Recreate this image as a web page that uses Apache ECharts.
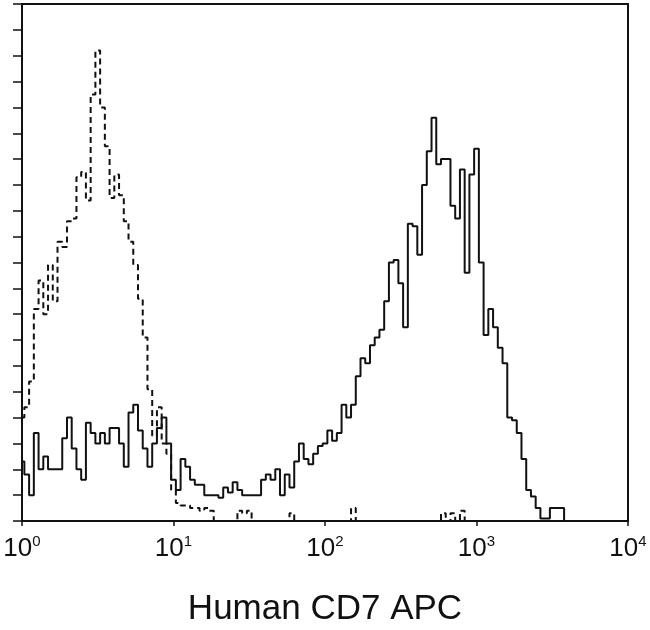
<!DOCTYPE html>
<html><head><meta charset="utf-8">
<script src="https://cdn.jsdelivr.net/npm/echarts@6/dist/echarts.min.js"></script>
<style>html,body{margin:0;padding:0;background:#fff}#c{width:650px;height:630px}</style>
</head><body><div id="c"></div>
<script>
// Flow cytometry histogram: channel counts, 32 channels per decade (channel 0 = 10^0)
const channelsPerDecade = 32;
const xTickExponents = [0, 1, 2, 3, 4];
const axisTitle = 'Human CD7 APC';

// Solid line: Human CD7 APC stained
const cd7Counts = [
  2.3,1.8,1.0,3.4,2.0,2.5,2.0,2.0,2.0,3.2,
  4.0,2.8,2.0,1.6,3.8,3.4,3.0,3.4,3.0,3.6,
  3.6,3.0,2.1,4.2,4.5,3.5,2.8,2.1,3.0,3.6,
  4.0,3.0,1.6,1.2,2.4,2.1,1.6,1.4,1.4,1.0,
  1.0,1.0,0.9,1.3,1.1,1.5,1.2,1.0,1.0,1.0,
  1.0,1.6,1.8,1.6,2.0,1.0,1.8,1.3,2.3,3.0,
  2.4,2.2,2.6,2.9,3.0,3.5,3.1,3.4,4.5,4.0,
  4.5,5.6,6.3,6.1,6.8,7.1,7.4,8.5,10.0,10.1,
  9.2,7.5,11.5,11.4,10.3,13.0,14.3,15.6,13.8,14.0,
  14.0,12.2,11.7,13.6,9.6,13.4,14.4,10.0,7.2,8.2,
  7.5,6.7,6.1,4.0,3.9,3.4,2.4,1.2,0.95,0.5,
  0.1,0.1,0.5,0.5,0.5,0
];

// Dashed line: isotype control
const isotypeCounts = [
  4.0,4.4,5.4,8.2,9.3,8.0,9.9,8.5,10.8,10.6,
  11.6,11.7,13.3,13.5,12.4,16.5,18.2,16.0,14.5,12.5,
  13.4,12.6,11.6,10.8,9.9,8.6,7.1,5.1,3.3,4.4,
  3.0,2.6,1.2,0.7,0.6,0.6,0.5,0.5,0.4,0.5,
  0.4,0,0,0,0,0,0.4,0.3,0.4,0,
  0,0,0,0,0,0,0,0.3,0,0,
  0,0,0,0,0,0,0,0,0,0,
  0.5,0,0,0,0,0,0,0,0,0,
  0,0,0,0,0,0,0,0,0,0.3,
  0,0.3,0,0.4,0
];

function toPoints(counts) {
  return counts.map((v, ch) => [Math.pow(10, ch / channelsPerDecade), v]);
}

const chart = echarts.init(document.getElementById('c'), null, {renderer: 'canvas'});
chart.setOption({
  animation: false,
  backgroundColor: '#fff',
  title: {
    text: axisTitle,
    left: 'center',
    top: 587,
    textStyle: {fontFamily: 'Liberation Sans', fontSize: 35, fontWeight: 'normal', color: '#111'}
  },
  grid: {left: 22, right: 22, top: 4, bottom: 109, show: true, borderColor: '#111', borderWidth: 2, backgroundColor: 'transparent'},
  xAxis: {
    type: 'log', logBase: 10, min: 1, max: 10000,
    axisLine: {lineStyle: {color: '#111', width: 2}},
    axisTick: {show: true, inside: false, length: 5, lineStyle: {color: '#111', width: 1.5}},
    minorTick: {show: false},
    splitLine: {show: false},
    axisLabel: {
      margin: 13,
      fontFamily: 'Liberation Sans',
      fontSize: 26,
      color: '#111',
      formatter: function (v) {
        const e = Math.round(Math.log10(v));
        return '{b|10}{s|' + e + '}';
      },
      rich: {
        b: {fontFamily: 'Liberation Sans', fontSize: 26, color: '#111'},
        s: {fontFamily: 'Liberation Sans', fontSize: 15, color: '#111', padding: [0, 0, 14, 0]}
      }
    }
  },
  yAxis: {
    type: 'value', min: 0, max: 20, interval: 1,
    axisLine: {show: true, lineStyle: {color: '#111', width: 2}},
    axisTick: {show: true, inside: false, length: 9, lineStyle: {color: '#111', width: 1.5}},
    axisLabel: {show: false},
    splitLine: {show: false}
  },
  series: [
    {
      name: 'Isotype', type: 'line', step: 'middle', symbol: 'none',
      data: toPoints(isotypeCounts),
      lineStyle: {color: '#111', width: 2, type: [6, 4]}
    },
    {
      name: 'CD7', type: 'line', step: 'middle', symbol: 'none',
      data: toPoints(cd7Counts),
      lineStyle: {color: '#111', width: 2}
    }
  ]
});
</script>
</body></html>
